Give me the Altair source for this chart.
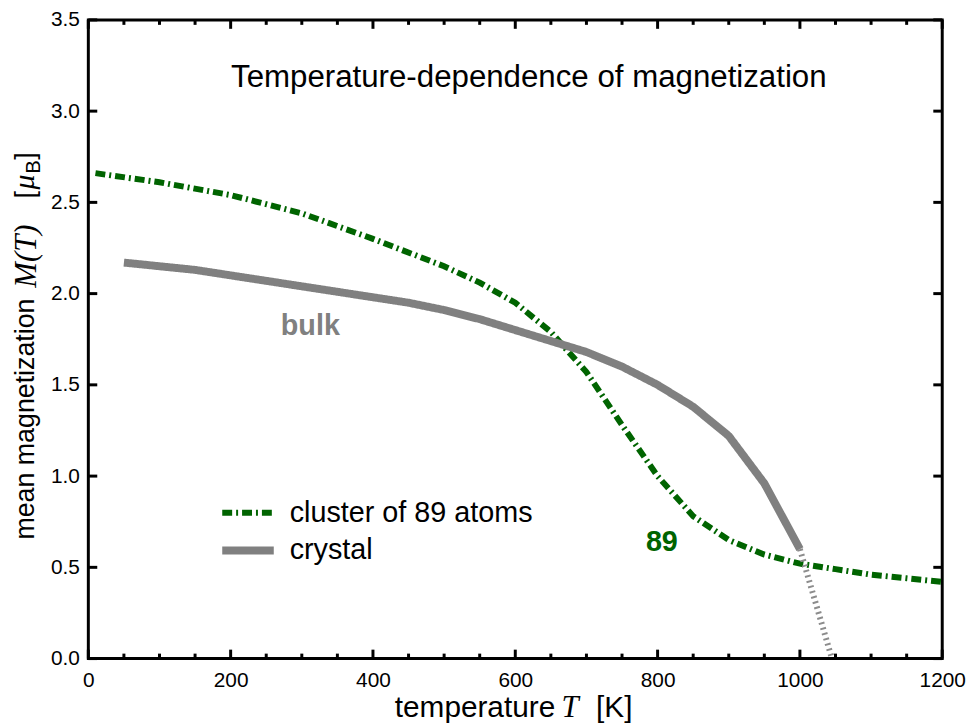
import altair as alt
import pandas as pd

# ---------------- data ----------------
series_names = ["cluster of 89 atoms", "crystal"]
series_colors = ["#006400", "#808080"]

cluster_T = [10, 100, 200, 300, 400, 500, 550, 600, 650, 700, 750, 800, 850,
             900, 950, 1000, 1050, 1100, 1150, 1200]
cluster_M = [2.66, 2.61, 2.54, 2.44, 2.30, 2.15, 2.06, 1.95, 1.79, 1.57, 1.28,
             1.00, 0.78, 0.65, 0.57, 0.52, 0.49, 0.46, 0.44, 0.42]

crystal_T = [50, 100, 150, 200, 250, 300, 350, 400, 450, 500, 550, 600, 650,
             700, 750, 800, 850, 900, 950, 1000]
crystal_M = [2.17, 2.15, 2.13, 2.10, 2.07, 2.04, 2.01, 1.98, 1.95, 1.91, 1.86,
             1.80, 1.74, 1.68, 1.60, 1.50, 1.38, 1.22, 0.96, 0.60]

crystal_ext_T = [1000, 1045]
crystal_ext_M = [0.60, 0.0]

x_major = [0, 200, 400, 600, 800, 1000, 1200]
x_minor = [t for t in range(0, 1201, 50) if t % 200 != 0]
y_major = [0.0, 0.5, 1.0, 1.5, 2.0, 2.5, 3.0, 3.5]

title_text = ["Temperature-dependence of magnetization"]
title_pos = [619, 3.18]
bulk_pos = [312, 1.82]
n89_pos = [806, 0.64]

W, H = 861, 644
SANS = "Liberation Sans"
SERIF = "Liberation Serif"

# ---------------- frames ----------------
lines_df = pd.DataFrame({
    "T": cluster_T + crystal_T,
    "M": cluster_M + crystal_M,
    "series": [series_names[0]] * len(cluster_T) + [series_names[1]] * len(crystal_T),
})
ext_df = pd.DataFrame({"T": crystal_ext_T, "M": crystal_ext_M})

xs = alt.Scale(domain=[0, 1200], nice=False, zero=False)
ys = alt.Scale(domain=[0, 3.5], nice=False, zero=False)

x_axis = alt.Axis(values=x_major, ticks=False, domain=False, grid=False,
                  labelFontSize=21, labelFont=SANS, labelPadding=11,
                  labelColor="black", title=None, labelFlush=False, format="d")
y_axis = alt.Axis(values=y_major, ticks=False, domain=False, grid=False,
                  labelFontSize=21, labelFont=SANS, labelPadding=9,
                  labelColor="black", title=None, format=".1f")

X = alt.X("T:Q", scale=xs, axis=x_axis, title=None)
Y = alt.Y("M:Q", scale=ys, axis=y_axis, title=None)

leg = alt.Legend(title=None, orient="none", legendX=131, legendY=478,
                 symbolType="stroke", symbolSize=2700, labelFontSize=29,
                 labelFont=SANS, labelColor="black", labelOffset=12,
                 clipHeight=38, rowPadding=0, padding=0, labelLimit=400)

lines = alt.Chart(lines_df).mark_line(clip=True).encode(
    x=X, y=Y,
    color=alt.Color("series:N", scale=alt.Scale(domain=series_names, range=series_colors), legend=leg),
    strokeDash=alt.StrokeDash("series:N", scale=alt.Scale(domain=series_names, range=[[10, 4, 2, 4], [1, 0]]), legend=leg),
    strokeWidth=alt.StrokeWidth("series:N", scale=alt.Scale(domain=series_names, range=[6, 8]), legend=leg),
    order="T:Q",
)

ext = alt.Chart(ext_df).mark_line(color="#8c8c8c", strokeWidth=6, strokeDash=[2, 3.5]).encode(x=X, y=Y)

# annotations in data coordinates
ann_df = pd.DataFrame({
    "T": [title_pos[0], bulk_pos[0], n89_pos[0]],
    "M": [title_pos[1], bulk_pos[1], n89_pos[1]],
    "txt": [title_text[0], "bulk", "89"],
    "kind": ["title", "bulk", "89"],
})
title_mark = alt.Chart(ann_df[ann_df.kind == "title"]).mark_text(
    font=SANS, fontSize=31.5, color="black", baseline="middle", align="center"
).encode(x=X, y=Y, text="txt:N")
bulk_mark = alt.Chart(ann_df[ann_df.kind == "bulk"]).mark_text(
    font=SANS, fontSize=29, fontWeight="bold", color="#808080", baseline="middle", align="center"
).encode(x=X, y=Y, text="txt:N")
n89_mark = alt.Chart(ann_df[ann_df.kind == "89"]).mark_text(
    font=SANS, fontSize=29, fontWeight="bold", color="#006400", baseline="middle", align="center"
).encode(x=X, y=Y, text="txt:N")

# inward tick marks on all four sides
xmaj_df = pd.DataFrame({"T": x_major})
xmin_df = pd.DataFrame({"T": x_minor})
ymaj_df = pd.DataFrame({"M": y_major})


def xticks(df, y0, y1, w):
    return alt.Chart(df).mark_rule(color="black", strokeWidth=w).encode(
        x=X, y=alt.value(y0), y2=alt.value(y1))


def yticks(df, x0, x1, w):
    return alt.Chart(df).mark_rule(color="black", strokeWidth=w).encode(
        y=Y, x=alt.value(x0), x2=alt.value(x1))


ticks = [
    xticks(xmaj_df, H, H - 9, 3), xticks(xmin_df, H, H - 5, 3),
    xticks(xmaj_df, 0, 9, 3), xticks(xmin_df, 0, 5, 3),
    yticks(ymaj_df, 0, 9, 3), yticks(ymaj_df, W, W - 9, 3),
]

# axis titles (mixed fonts) as text marks
def label(txt, x, y, font=SANS, style="normal", size=28, angle=0):
    return alt.Chart(pd.DataFrame({"t": [txt]})).mark_text(
        font=font, fontStyle=style, fontSize=size, color="black", align="left",
        baseline="alphabetic", angle=angle
    ).encode(x=alt.value(x), y=alt.value(y), text="t:N")


xt = [
    label("temperature", 309, 703, size=30),
    label("T", 477, 703, font=SERIF, style="italic", size=31),
    label("[K]", 512, 703, size=30),
]
yt = [
    label("mean magnetization", -55, 524, size=27, angle=270),
    label("M(T)", -53, 270, font=SERIF, style="italic", size=31, angle=270),
    label("[", -55, 180, size=27, angle=270),
    label("μ", -55, 171, font=SERIF, style="italic", size=30, angle=270),
    label("B", -49, 155, size=20, angle=270),
    label("]", -55, 141, size=27, angle=270),
]

chart = alt.layer(
    lines, ext, title_mark, bulk_mark, n89_mark, *ticks, *xt, *yt
).properties(
    width=W, height=H,
    autosize=alt.AutoSizeParams(type="none"),
    padding={"left": 81, "top": 9, "right": 28, "bottom": 66},
).configure_view(stroke="black", strokeWidth=3)

chart.save("out.html", embed_options={"renderer": "svg", "actions": False})
